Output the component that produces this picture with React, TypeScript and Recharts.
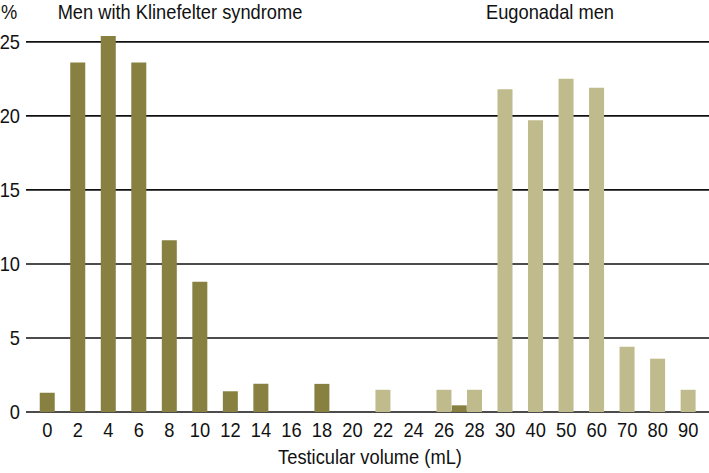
import React from "react";
import { BarChart, Bar, XAxis, YAxis, CartesianGrid } from "recharts";

// Testicular volume distribution, % of men per volume class
const volumeLabels = ["0", "2", "4", "6", "8", "10", "12", "14", "16", "18", "20", "22", "24", "26", "28", "30", "40", "50", "60", "70", "80", "90"];
const klinefelter = [1.3, 23.6, 25.4, 23.6, 11.6, 8.8, 1.4, 1.9, 0, 1.9, 0, 0, 0, 0, 0, 0, 0, 0, 0, 0, 0, 0];
const eugonadal = [0, 0, 0, 0, 0, 0, 0, 0, 0, 0, 0, 1.5, 0, 1.5, 1.5, 21.8, 19.7, 22.5, 21.9, 4.4, 3.6, 1.5];
// one small Klinefelter bar sits between the 26 and 28 classes
const klinefelterBetween = [{ after: "26", value: 0.45 }];
const yTicks = [0, 5, 10, 15, 20, 25];

const DARK = "#878040";
const LIGHT = "#c0bb8c";
const FONT = "'Liberation Sans', Arial, sans-serif";
const SQUEEZE = 0.87; // the original type is a condensed sans

const data = volumeLabels.map((label, i) => ({
  x: i,
  kf: klinefelter[i] || null,
  eu: eugonadal[i] || null,
}));
klinefelterBetween.forEach((b) => {
  data.push({ x: volumeLabels.indexOf(b.after) + 0.5, kf: b.value, eu: null });
});
data.sort((a, b) => a.x - b.x);

const squeeze = (x: number, y: number) =>
  `translate(${x} ${y}) scale(${SQUEEZE} 1) translate(${-x} ${-y})`;

function XTick({ x, y, payload }: any) {
  return (
    <text x={x} y={y} dy="0.71em" textAnchor="middle" fill="#111" fontSize={21} fontFamily={FONT} transform={squeeze(x, y)}>
      {volumeLabels[payload.value] ?? ""}
    </text>
  );
}

function YTick({ x, y, payload }: any) {
  return (
    <text x={x} y={y} dy="0.355em" textAnchor="end" fill="#111" fontSize={21} fontFamily={FONT} transform={squeeze(x, y)}>
      {payload.value}
    </text>
  );
}

const textStyle: React.CSSProperties = {
  position: "absolute",
  fontFamily: FONT,
  fontSize: 21,
  color: "#111",
  whiteSpace: "nowrap",
  lineHeight: 1,
};

export default function App() {
  return (
    <div style={{ position: "absolute", left: 0, top: 0, width: 709, height: 473, background: "#fff" }}>
      <BarChart width={709} height={473} data={data} margin={{ top: 30, right: 0, left: 0, bottom: 31 }}>
        <CartesianGrid vertical={false} horizontalValues={yTicks} stroke="#111" strokeWidth={1.6} />
        <XAxis
          type="number"
          dataKey="x"
          height={30}
          domain={[-0.7, 21.68]}
          ticks={volumeLabels.map((_, i) => i)}
          interval={0}
          axisLine={false}
          tickLine={false}
          tickSize={0}
          tickMargin={10}
          allowDataOverflow
          tick={<XTick />}
        />
        <YAxis
          domain={[0, 25.8]}
          ticks={yTicks}
          width={26}
          axisLine={false}
          tickLine={false}
          tickSize={0}
          tickMargin={6}
          allowDataOverflow
          tick={<YTick />}
        />
        <Bar dataKey="kf" stackId="a" fill={DARK} barSize={15} isAnimationActive={false} />
        <Bar dataKey="eu" stackId="a" fill={LIGHT} barSize={15} isAnimationActive={false} />
      </BarChart>
      <div style={{ ...textStyle, left: 1, top: 1, transform: `scaleX(${SQUEEZE})`, transformOrigin: "left" }}>%</div>
      <div style={{ ...textStyle, left: 180, top: 1, transform: `translateX(-50%) scaleX(${SQUEEZE})` }}>
        Men with Klinefelter syndrome
      </div>
      <div style={{ ...textStyle, left: 550, top: 1, transform: `translateX(-50%) scaleX(${SQUEEZE})` }}>
        Eugonadal men
      </div>
      <div style={{ ...textStyle, left: 370, top: 446, transform: `translateX(-50%) scaleX(${SQUEEZE})` }}>
        Testicular volume (mL)
      </div>
    </div>
  );
}
